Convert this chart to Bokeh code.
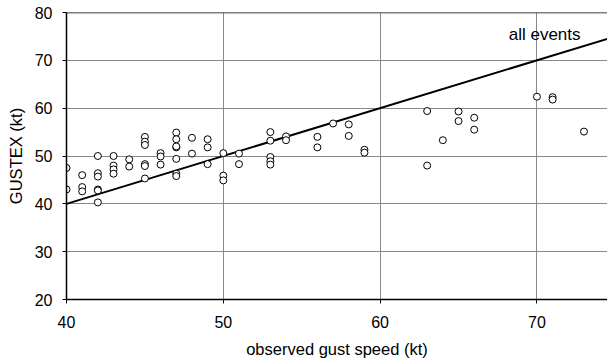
from bokeh.plotting import figure
from bokeh.models import Span, FixedTicker, Label
from bokeh.embed import file_html
from bokeh.resources import INLINE

# observed gust speed (kt)
obs = [40, 40, 41, 41, 41, 42, 42, 42, 42, 42, 42,
       43, 43, 43, 43, 44, 44,
       45, 45, 45, 45, 45, 45,
       46, 46, 46,
       47, 47, 47, 47, 47, 47, 47,
       48, 48, 49, 49, 49, 50, 50, 50, 51, 51,
       53, 53, 53, 53, 53, 54, 54,
       56, 56, 57, 58, 58, 59, 59,
       63, 63, 64, 65, 65, 66, 66, 70, 71, 71, 73]
# GUSTEX (kt)
gustex = [47.5, 43.0, 46.0, 43.5, 42.6, 50.0, 46.4, 45.7, 43.0, 42.8, 40.3,
          50.0, 48.0, 47.2, 46.3, 49.3, 47.8,
          54.0, 53.0, 52.3, 48.3, 47.9, 45.3,
          50.6, 49.9, 48.2,
          54.9, 53.5, 51.8, 49.4, 46.3, 45.8, 52.0,
          53.8, 50.5, 53.5, 51.8, 48.3, 50.6, 45.9, 44.9, 50.5, 48.3,
          55.0, 53.2, 49.8, 48.9, 48.2, 54.1, 53.3,
          54.0, 51.8, 56.8, 56.6, 54.2, 51.3, 50.7,
          59.4, 48.0, 53.3, 59.3, 57.3, 58.0, 55.5, 62.4, 62.3, 61.8, 55.1]

fit_x = [40, 75]
fit_y = [40, 75]

x_ticks = [40, 50, 60, 70]
y_ticks = [20, 30, 40, 50, 60, 70, 80]

FONT = "Liberation Sans"

p = figure(width=607, height=362, x_range=(40, 74.5), y_range=(20, 80),
           output_backend="svg", toolbar_location=None,
           min_border_left=66, min_border_right=0, min_border_top=12,
           min_border_bottom=63)
p.outline_line_color = None
p.background_fill_color = "white"
p.border_fill_color = "white"

for ax in (p.xaxis[0], p.yaxis[0]):
    ax.major_label_text_font = FONT
    ax.major_label_text_font_size = "16px"
    ax.major_label_text_color = "black"
    ax.axis_label_text_font = FONT
    ax.axis_label_text_font_size = "16.5px"
    ax.axis_label_text_font_style = "normal"
    ax.axis_label_text_color = "black"
    ax.axis_line_color = "black"
    ax.axis_line_width = 1.5
    ax.major_tick_line_color = "black"
    ax.major_tick_out = 4
    ax.major_tick_in = 0
    ax.minor_tick_line_color = None

p.xaxis.ticker = FixedTicker(ticks=x_ticks)
p.yaxis.ticker = FixedTicker(ticks=y_ticks)
p.xaxis.axis_label = "observed gust speed (kt)"
p.yaxis.axis_label = "GUSTEX (kt)"
p.xaxis.major_label_standoff = 12
p.xaxis.axis_label_standoff = 9
p.yaxis.major_label_standoff = 10
p.yaxis.axis_label_standoff = 7

p.xgrid.grid_line_color = "#8a8a8a"
p.ygrid.grid_line_color = "#8a8a8a"
p.xgrid.grid_line_width = 1
p.ygrid.grid_line_width = 1

p.add_layout(Span(location=80, dimension="width", line_color="black", line_width=1.5))

p.line(fit_x, fit_y, line_color="black", line_width=2)
p.scatter(obs, gustex, size=7, marker="circle", fill_color="white",
          line_color="black", line_width=1)

p.add_layout(Label(x=68.2, y=75.4, text="all events", text_font=FONT,
                   text_font_size="17px", text_color="black",
                   text_baseline="alphabetic"))

open("out.html", "w").write(file_html(p, INLINE))
